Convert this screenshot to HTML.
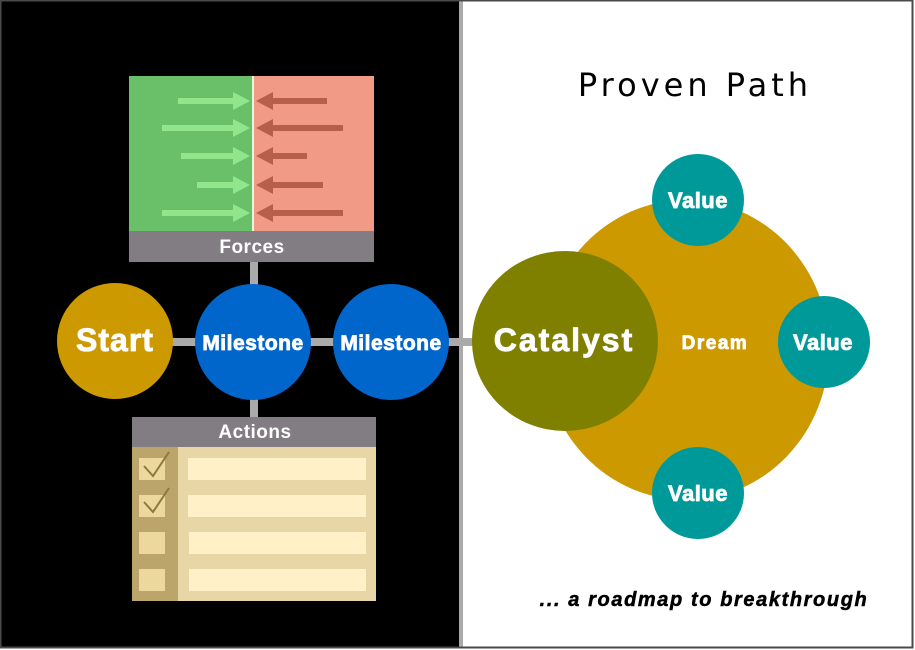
<!DOCTYPE html>
<html><head><style>html,body{margin:0;padding:0;background:#fff;width:915px;height:650px;overflow:hidden}</style></head>
<body>
<svg width="915" height="650" viewBox="0 0 915 650" xmlns="http://www.w3.org/2000/svg" font-family="Liberation Sans, Arial, sans-serif">
<rect x="0" y="0" width="915" height="650" fill="#fff"/>
<rect x="0" y="0" width="460" height="648" fill="#000"/>
<rect x="459" y="0" width="4" height="648" fill="#aaa"/>
<rect x="0.5" y="0.5" width="912" height="647" fill="none" stroke="#4a4a4a" stroke-width="2"/>

<rect x="170" y="338" width="306" height="8" fill="#aaa"/>
<rect x="250" y="262" width="8" height="24" fill="#aaa"/>
<rect x="250" y="398" width="8" height="20" fill="#aaa"/>

<rect x="129" y="76" width="124" height="156" fill="#6abf69"/>
<rect x="253" y="76" width="121" height="156" fill="#f19b86"/>
<rect x="252" y="76" width="2" height="156" fill="#e8f5e0"/>
<rect x="129" y="231" width="245" height="31" fill="#827d82"/>
<text x="252" y="253" text-anchor="middle" font-size="19" font-weight="bold" fill="#fff" letter-spacing="0.5">Forces</text>
<g fill="#93e58c">
<rect x="178" y="98" width="58" height="6"/><polygon points="233,92 250,101 233,110"/>
<rect x="162" y="125" width="74" height="6"/><polygon points="233,119 250,128 233,137"/>
<rect x="181" y="153" width="55" height="6"/><polygon points="233,147 250,156 233,165"/>
<rect x="197" y="182" width="39" height="6"/><polygon points="233,176 250,185 233,194"/>
<rect x="162" y="210" width="74" height="6"/><polygon points="233,204 250,213 233,222"/>
</g>
<g fill="#b85f4a">
<rect x="270" y="98" width="57" height="6"/><polygon points="273,92 256,101 273,110"/>
<rect x="270" y="125" width="73" height="6"/><polygon points="273,119 256,128 273,137"/>
<rect x="270" y="153" width="37" height="6"/><polygon points="273,147 256,156 273,165"/>
<rect x="270" y="182" width="53" height="6"/><polygon points="273,176 256,185 273,194"/>
<rect x="270" y="210" width="73" height="6"/><polygon points="273,204 256,213 273,222"/>
</g>

<rect x="132" y="417" width="244" height="30" fill="#827d82"/>
<text x="255" y="438" text-anchor="middle" font-size="19" font-weight="bold" fill="#fff" letter-spacing="0.5">Actions</text>
<rect x="132" y="447" width="244" height="154" fill="#e9d6a6"/>
<rect x="132" y="447" width="46" height="154" fill="#bca56a"/>
<g fill="#fff0c8">
<rect x="188" y="458" width="178" height="22"/>
<rect x="188" y="495" width="178" height="22"/>
<rect x="189" y="532" width="177" height="22"/>
<rect x="189" y="569" width="177" height="22"/>
</g>
<g fill="#ecd89c">
<rect x="139" y="458" width="26" height="22"/>
<rect x="139" y="495" width="26" height="22"/>
<rect x="139" y="532" width="26" height="22"/>
<rect x="139" y="569" width="26" height="22"/>
</g>
<g fill="none" stroke="#8b7a3c" stroke-width="2">
<polyline points="144,466 153,476 169,452"/>
<polyline points="144,502 153,512 169,488"/>
</g>

<g fill="#fff" stroke="#fff" stroke-width="0.8" font-weight="bold" text-anchor="middle">
<circle cx="115" cy="341" r="58" fill="#cc9900" stroke="none"/>
<text x="115" y="351" font-size="32" letter-spacing="1">Start</text>
<circle cx="253" cy="342" r="58" fill="#0066cc" stroke="none"/>
<text x="253" y="350" font-size="21" letter-spacing="0.5">Milestone</text>
<circle cx="391" cy="342" r="58" fill="#0066cc" stroke="none"/>
<text x="391" y="350" font-size="21" letter-spacing="0.5">Milestone</text>
</g>

<text x="695" y="96" text-anchor="middle" font-size="32" fill="#000" letter-spacing="4" font-family="DejaVu Sans, sans-serif">Proven Path</text>
<ellipse cx="686" cy="350" rx="143" ry="150" fill="#cc9900"/>
<ellipse cx="565" cy="341" rx="93" ry="90" fill="#808000"/>
<g fill="#fff" stroke="#fff" stroke-width="0.8" font-weight="bold" text-anchor="middle">
<text x="564" y="351" font-size="32" letter-spacing="2">Catalyst</text>
<text x="715" y="349" font-size="19" letter-spacing="1.5">Dream</text>
<circle cx="698" cy="200" r="46" fill="#009999" stroke="none"/>
<text x="698" y="208" font-size="22" letter-spacing="0.5">Value</text>
<circle cx="824" cy="342" r="46" fill="#009999" stroke="none"/>
<text x="823" y="350" font-size="22" letter-spacing="0.5">Value</text>
<circle cx="698" cy="493" r="46" fill="#009999" stroke="none"/>
<text x="698" y="501" font-size="22" letter-spacing="0.5">Value</text>
</g>
<text x="704" y="606" text-anchor="middle" font-size="20" font-weight="bold" font-style="italic" fill="#000" stroke="#000" stroke-width="0.5" letter-spacing="1.6">... a roadmap to breakthrough</text>
</svg>
</body></html>
